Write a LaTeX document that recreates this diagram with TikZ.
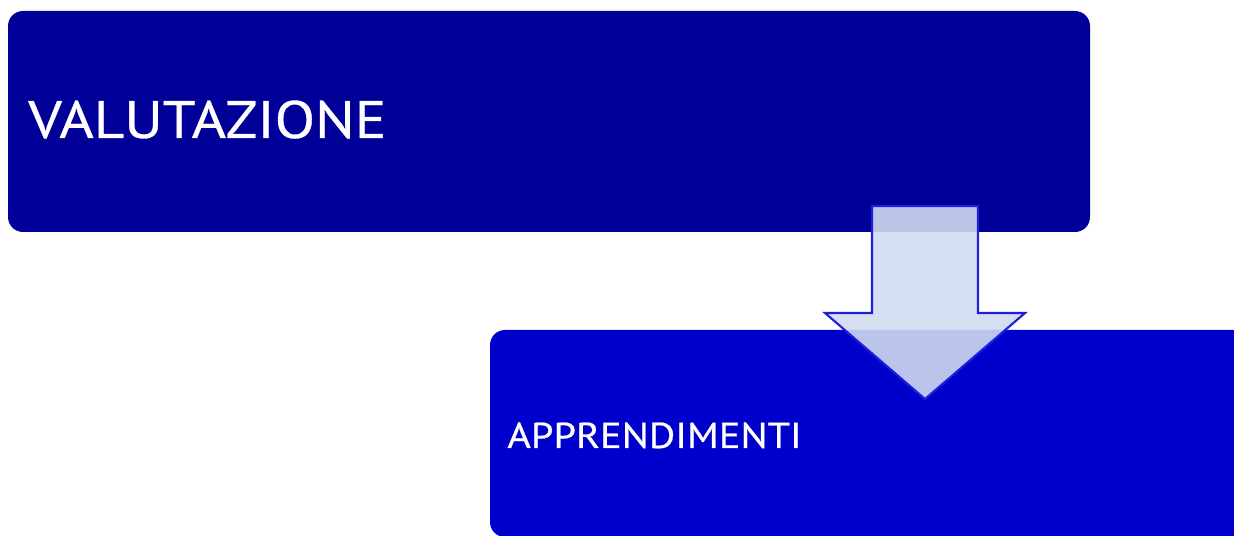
\documentclass[tikz,border=0pt]{standalone}
\usepackage{fontspec}
\setmainfont{PT Sans}[FakeStretch=1.12, FakeBold=0.6]
\usepackage{tikz}
\usetikzlibrary{positioning, calc}
\definecolor{valblue}{RGB}{0,0,153}
\definecolor{appblue}{RGB}{0,0,204}
\definecolor{arrowfill}{RGB}{208,219,239}
\definecolor{arrowline}{RGB}{30,30,220}

\begin{document}
\begin{tikzpicture}[x=0.02cm, y=-0.02cm,
    box/.style={fill=#1, draw=none, rounded corners=15*0.02cm},
    boxtext/.style={text=white, anchor=base west, inner sep=0pt}]
  % Canvas
  \useasboundingbox (0,0) rectangle (1234,536);
  \clip (0,0) rectangle (1234,536);

  % Boxes
  \fill[box=valblue] (8,11) rectangle (1090,232);
  \fill[box=appblue] (490,330) rectangle (1248,537);

  % Labels
  \node[boxtext, font=\fontsize{30}{36}\selectfont] (val) at (28,138) {VALUTAZIONE};
  \node[boxtext, font=\fontsize{20.5}{24}\selectfont] (app) at (507,448) {APPRENDIMENTI};

  % Block arrow from top box to bottom box
  \coordinate (tip) at (925,399);
  \draw[arrowline, line width=1.2pt, line join=miter, fill=arrowfill, fill opacity=0.9]
    ($(tip)+(-53,-193)$) -- ($(tip)+(53,-193)$) -- ($(tip)+(53,-86)$) --
    ($(tip)+(100,-86)$) -- (tip) -- ($(tip)+(-100,-86)$) --
    ($(tip)+(-53,-86)$) -- cycle;
\end{tikzpicture}
\end{document}
